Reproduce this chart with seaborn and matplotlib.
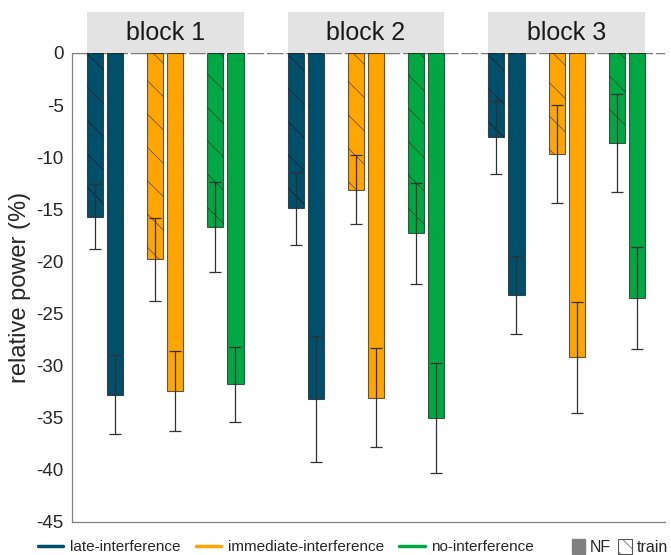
import numpy as np
import pandas as pd
import matplotlib
matplotlib.use("Agg")
import matplotlib.pyplot as plt
from matplotlib.patches import Rectangle, Patch
from matplotlib.lines import Line2D
import matplotlib.transforms as mtransforms
import seaborn as sns

# ---------------- data ----------------
blocks = ["block 1", "block 2", "block 3"]
conditions = ["late-interference", "immediate-interference", "no-interference"]
phases = ["train", "NF"]

# rows: blocks, columns: conditions
train_mean = [[-15.7, -19.8, -16.7],
              [-14.9, -13.1, -17.3],
              [-8.1, -9.7, -8.6]]
train_sem = [[3.1, 3.95, 4.3],
             [3.5, 3.3, 4.85],
             [3.5, 4.7, 4.7]]
nf_mean = [[-32.8, -32.4, -31.8],
           [-33.2, -33.1, -35.0],
           [-23.2, -29.2, -23.5]]
nf_sem = [[3.8, 3.85, 3.6],
          [6.0, 4.75, 5.3],
          [3.75, 5.3, 4.9]]

y_ticks = [0, -5, -10, -15, -20, -25, -30, -35, -40, -45]

colors = {"late-interference": "#004f6b",
          "immediate-interference": "#ffa500",
          "no-interference": "#00a843"}

# ---------------- long table ----------------
rows = []
for b, blk in enumerate(blocks):
    for c, cond in enumerate(conditions):
        for t, ph in enumerate(phases):
            mean = train_mean[b][c] if ph == "train" else nf_mean[b][c]
            sem = train_sem[b][c] if ph == "train" else nf_sem[b][c]
            rows.append({"block": blk, "condition": cond, "phase": ph,
                         "pos": 10 * b + 3 * c + t, "value": mean, "sem": sem})
df = pd.DataFrame(rows)

# ---------------- style ----------------
sns.set_theme(style="white")
plt.rcParams["font.family"] = ["Liberation Sans", "DejaVu Sans"]
plt.rcParams["hatch.linewidth"] = 0.5

fig = plt.figure(figsize=(6.71, 5.55), dpi=100)
W, H = 671, 555
ax = fig.add_axes([72 / W, 33 / H, (665 - 72) / W, (522 - 53) / H])

sns.barplot(data=df, x="pos", y="value", hue="condition", palette=colors,
            native_scale=True, dodge=False, errorbar=None, width=0.8,
            saturation=1, edgecolor=(0, 0, 0, 0.6), linewidth=0.8,
            legend=False, ax=ax, zorder=3)

train_pos = set(df.loc[df.phase == "train", "pos"].tolist())
for p in ax.patches:
    cx = p.get_x() + p.get_width() / 2
    if int(round(cx)) in train_pos:
        p.set_hatch("\\")

ax.errorbar(df["pos"], df["value"], yerr=df["sem"], fmt="none",
            ecolor="#303030", elinewidth=0.9, capsize=4, capthick=0.9,
            zorder=5)

ax.axhline(0, color="#7a7a7a", lw=1.0, linestyle=(0, (12, 2)), zorder=1)

ax.set_ylim(-45, 0)
ax.set_xlim(-1.146, 28.4)
ax.set_xticks([])
ax.set_xlabel("")
ax.set_yticks(y_ticks)
ax.set_yticklabels([str(v) for v in y_ticks])
ax.set_ylabel("relative power (%)", fontsize=17, color="#262626", labelpad=4)
ax.tick_params(axis="y", direction="in", length=3.5, width=0.8,
               color="#808080", labelsize=13.5, labelcolor="#262626", pad=6)
for s in ["top", "right"]:
    ax.spines[s].set_visible(False)
for s in ["left", "bottom"]:
    ax.spines[s].set_color("#808080")
    ax.spines[s].set_linewidth(0.9)

# facet strips above the axes
trans = mtransforms.blended_transform_factory(ax.transData, ax.transAxes)
strip_h = 41 / (522 - 53)
for b, blk in enumerate(blocks):
    sub = df[df.block == blk]
    x0 = sub.pos.min() - 0.4
    x1 = sub.pos.max() + 0.4
    ax.add_patch(Rectangle((x0, 1.0), x1 - x0, strip_h, transform=trans,
                           facecolor="#e3e3e3", edgecolor="none",
                           clip_on=False, zorder=2))
    ax.text((x0 + x1) / 2, 1.0 + strip_h / 2, blk, transform=trans,
            ha="center", va="center", fontsize=18, color="#1a1a1a")

# legends
ly = 1 - 547 / H
h1 = [Line2D([0], [0], color=colors[c], lw=2.5) for c in conditions]
leg1 = fig.legend(h1, conditions, loc="center left",
                  bbox_to_anchor=(38 / W, ly), ncol=3, frameon=False,
                  fontsize=11, handlelength=1.65, handletextpad=0.45,
                  columnspacing=1.0, borderpad=0, borderaxespad=0)
for t in leg1.get_texts():
    t.set_color("#262626")

h2 = [Patch(facecolor="#808080", edgecolor="#808080"),
      Patch(facecolor="white", edgecolor="#555555", hatch="\\\\",
            linewidth=0.8)]
leg2 = fig.legend(h2, ["NF", "train"], loc="center right",
                  bbox_to_anchor=(668 / W, ly), ncol=2, frameon=False,
                  fontsize=11.5, handlelength=0.85, handleheight=1.1,
                  handletextpad=0.3, columnspacing=0.45,
                  borderpad=0, borderaxespad=0)
for t in leg2.get_texts():
    t.set_color("#262626")

fig.savefig("out.png", dpi=100)
